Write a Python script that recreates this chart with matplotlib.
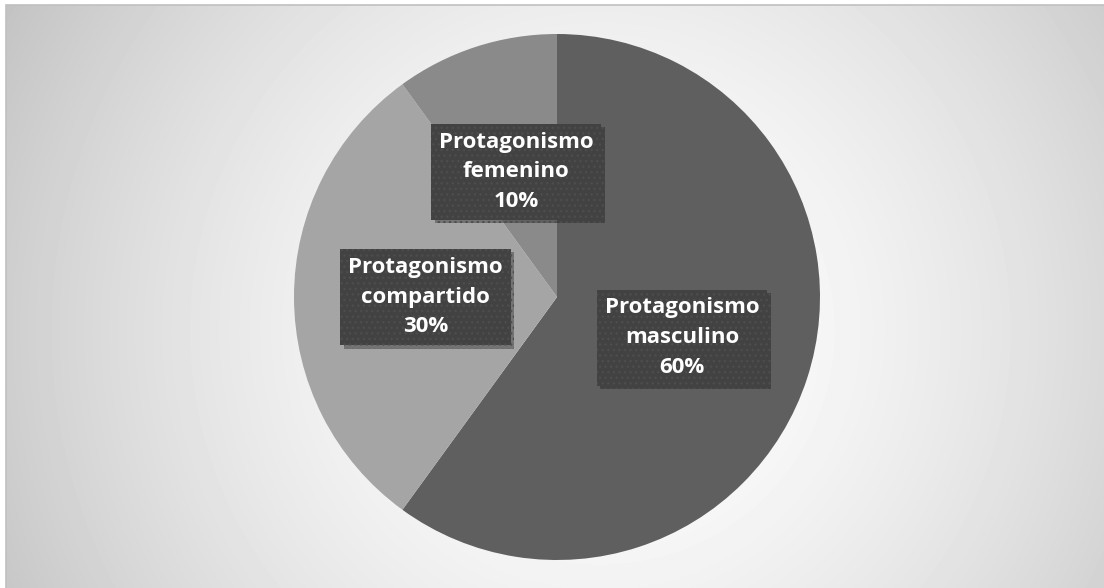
import numpy as np
import matplotlib
matplotlib.use("Agg")
import matplotlib.pyplot as plt
import matplotlib.patheffects as pe
from matplotlib.patches import Rectangle

labels = ["Protagonismo\nmasculino", "Protagonismo\ncompartido", "Protagonismo\nfemenino"]
shares = [60, 30, 10]
colors = ["#5f5f5f", "#a5a5a5", "#8a8a8a"]

W, H = 1104, 588
fig = plt.figure(figsize=(W / 100, H / 100), dpi=100)
fig.patch.set_facecolor("white")

# chart area background: soft radial gradient
bg = fig.add_axes([6 / W, 0, (W - 6) / W, (H - 5) / H])
yy, xx = np.mgrid[5:H, 6:W]
d = np.hypot(xx - 600, yy - 330) / 677.0
shade = np.clip(1.0 - 0.235 * d ** 1.6, 0, 1)
bg.imshow(shade, cmap="gray", vmin=0, vmax=1, aspect="auto",
          extent=[0, 1, 0, 1], interpolation="bilinear")
bg.set_xlim(0, 1)
bg.set_ylim(0, 1)
bg.axis("off")
fig.patches.append(Rectangle((6 / W, -0.01), 1.0, (H - 5) / H + 0.01,
                             transform=fig.transFigure, fill=False,
                             edgecolor="#c0c0c0", linewidth=1.2))

# pie
cx, cy, r = 557, 297, 263
ax = fig.add_axes([(cx - r) / W, (H - cy - r) / H, 2 * r / W, 2 * r / H])
wedges, texts = ax.pie(shares, colors=colors, startangle=90, counterclock=False,
                       radius=1.0, labeldistance=None,
                       wedgeprops=dict(linewidth=0))
ax.set_xlim(-1, 1)
ax.set_ylim(-1, 1)
ax.set_aspect("equal")
ax.axis("off")

total = sum(shares)
start = 90.0
for lab, v in zip(labels, shares):
    mid = np.deg2rad(start - 360.0 * v / total / 2)
    start -= 360.0 * v / total
    t = ax.text(0.5 * np.cos(mid), 0.5 * np.sin(mid), f"{lab}\n{v}%",
                ha="center", va="center", color="white", fontsize=16,
                fontfamily="Open Sans", fontweight="bold", linespacing=1.55,
                bbox=dict(boxstyle="square,pad=0.35", facecolor="#424242",
                          edgecolor="#4d4d4d", linewidth=0, hatch="..."))
    t.get_bbox_patch().set_path_effects(
        [pe.withSimplePatchShadow(offset=(2.5, -2.5), shadow_rgbFace="black", alpha=0.3)])

fig.savefig("out.png", dpi=100)
